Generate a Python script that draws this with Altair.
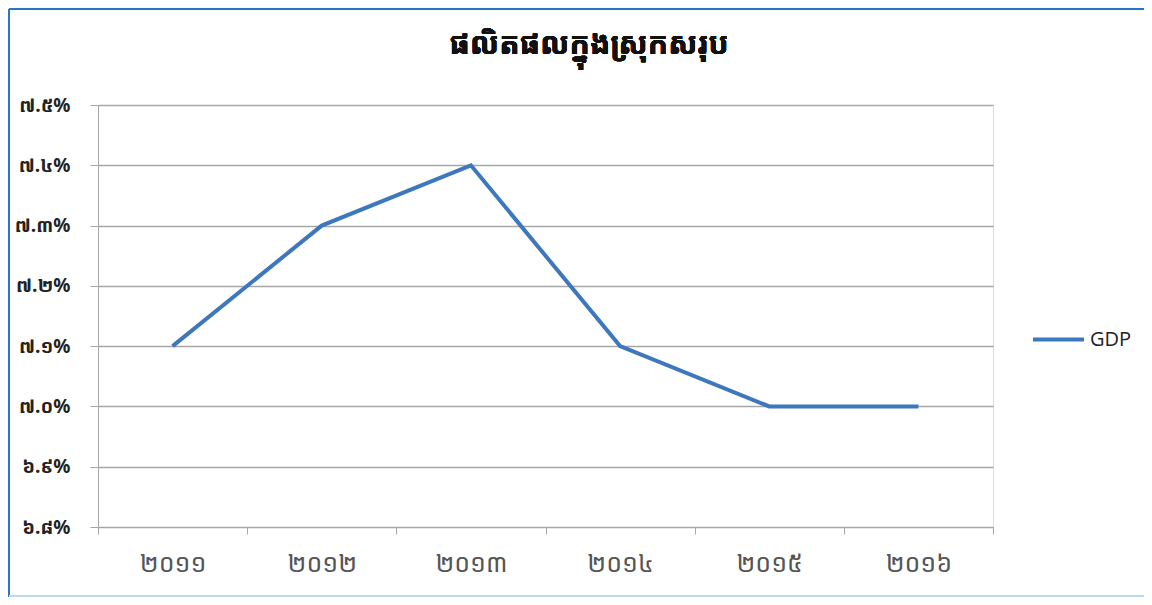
import altair as alt
import pandas as pd

title_text = "ផលិតផលក្នុងស្រុកសរុប"
years = ["២០១១", "២០១២", "២០១៣", "២០១៤", "២០១៥", "២០១៦"]
gdp = [7.1, 7.3, 7.4, 7.1, 7.0, 7.0]
series_name = "GDP"
y_ticks = [6.8, 6.9, 7.0, 7.1, 7.2, 7.3, 7.4, 7.5]
y_labels = ["៦.៨%", "៦.៩%", "៧.០%", "៧.១%", "៧.២%", "៧.៣%", "៧.៤%", "៧.៥%"]

df = pd.DataFrame({"year": years, "value": gdp, "series": [series_name] * len(years)})

W, H = 895, 422
FONT = "Noto Sans Khmer, Khmer OS, Noto Sans, DejaVu Sans, sans-serif"
GRID = "#a6a6a6"
BLUE = "#3d77bd"

label_expr = "[" + ",".join("'" + s + "'" for s in y_labels) + "][round((datum.value - 6.8) * 10)]"

line = alt.Chart(df).mark_line(strokeWidth=4, color=BLUE).encode(
    x=alt.X("year:O", sort=years, title=None,
            scale=alt.Scale(type="band", paddingInner=0, paddingOuter=0),
            axis=alt.Axis(tickBand="extent", tickSize=7, tickColor=GRID, domainColor=GRID,
                          labelFontSize=25, labelColor="#555555", labelPadding=17,
                          labelFontWeight="normal",
                          labelFont=FONT, labelAngle=0, grid=False)),
    y=alt.Y("value:Q", title=None,
            scale=alt.Scale(domain=[6.8, 7.5], nice=False, zero=False),
            axis=alt.Axis(values=y_ticks, labelExpr=label_expr, grid=True, gridColor=GRID,
                          gridWidth=1.5, tickSize=8, tickColor=GRID, domainColor=GRID,
                          labelFontSize=19, labelFontWeight="bold", labelColor="#222222",
                          labelFont=FONT, labelPadding=20)),
    color=alt.Color("series:N", scale=alt.Scale(range=[BLUE]),
                    legend=alt.Legend(title=None, orient="none", legendX=933, legendY=207,
                                      symbolType="stroke", symbolSize=2600, symbolStrokeWidth=4,
                                      labelFontSize=20, labelFont="Open Sans, Noto Sans, sans-serif",
                                      labelColor="#222222", labelOffset=4)),
)

title = alt.Chart(df).mark_text(fontSize=30, fontWeight="bold", font=FONT, color="#111111",
                                align="center", baseline="middle").encode(
    x=alt.value(491), y=alt.value(-60), text=alt.value(title_text))

border_left = alt.Chart(df).mark_rule(color="#2a76c6", strokeWidth=2).encode(
    x=alt.value(-89), y=alt.value(-96), y2=alt.value(H + 70))
border_top = alt.Chart(df).mark_rule(color="#2a76c6", strokeWidth=2).encode(
    x=alt.value(-89), x2=alt.value(W + 152), y=alt.value(-96))
border_bottom = alt.Chart(df).mark_rule(color="#bcd8ef", strokeWidth=2).encode(
    x=alt.value(-89), x2=alt.value(W + 152), y=alt.value(H + 69))

chart = alt.layer(line, title, border_left, border_top, border_bottom).properties(
    width=W, height=H,
    autosize=alt.AutoSizeParams(type="none"),
    padding={"left": 90, "top": 97, "right": 151, "bottom": 70},
).configure_view(stroke=None).configure(background="white")

chart.save("out.html", embed_options={"renderer": "svg", "actions": False})
